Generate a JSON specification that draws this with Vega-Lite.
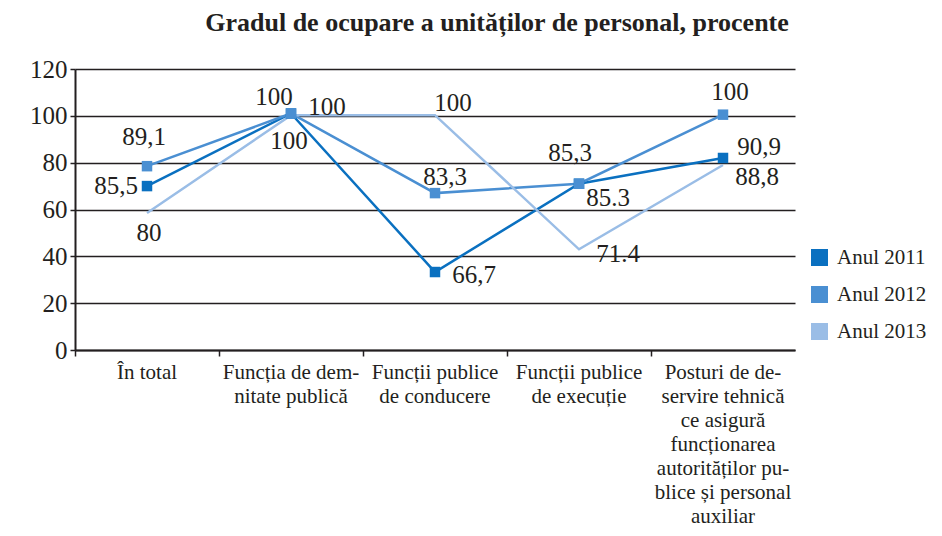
{
  "$schema": "https://vega.github.io/schema/vega-lite/v6.json",
  "width": 720,
  "height": 281,
  "autosize": {"type": "none"},
  "padding": {"left": 75, "top": 69, "right": 147, "bottom": 186},
  "title": {
    "text": "Gradul de ocupare a unităților de personal, procente",
    "font": "Liberation Serif",
    "fontSize": 26,
    "fontWeight": "bold",
    "color": "#231f20",
    "anchor": "middle",
    "dx": 62,
    "offset": 21
  },
  "data": {
    "values": [
      {"serie": "Anul 2011", "cat": "În total", "v": 70, "lbl": "85,5"},
      {"serie": "Anul 2011", "cat": "Funcția de demnitate publică", "v": 101, "lbl": "100"},
      {"serie": "Anul 2011", "cat": "Funcții publice de conducere", "v": 33.3, "lbl": "66,7"},
      {"serie": "Anul 2011", "cat": "Funcții publice de execuție", "v": 71, "lbl": "85.3"},
      {"serie": "Anul 2011", "cat": "Posturi de deservire tehnică ce asigură funcționarea autorităților publice și personal auxiliar", "v": 82, "lbl": "90,9"},
      {"serie": "Anul 2012", "cat": "În total", "v": 78.5, "lbl": "89,1"},
      {"serie": "Anul 2012", "cat": "Funcția de demnitate publică", "v": 101, "lbl": "100"},
      {"serie": "Anul 2012", "cat": "Funcții publice de conducere", "v": 67, "lbl": "83,3"},
      {"serie": "Anul 2012", "cat": "Funcții publice de execuție", "v": 71, "lbl": "85,3"},
      {"serie": "Anul 2012", "cat": "Posturi de deservire tehnică ce asigură funcționarea autorităților publice și personal auxiliar", "v": 100.5, "lbl": "100"},
      {"serie": "Anul 2013", "cat": "În total", "v": 58.5, "lbl": "80"},
      {"serie": "Anul 2013", "cat": "Funcția de demnitate publică", "v": 100.3, "lbl": "100"},
      {"serie": "Anul 2013", "cat": "Funcții publice de conducere", "v": 100.3, "lbl": "100"},
      {"serie": "Anul 2013", "cat": "Funcții publice de execuție", "v": 43, "lbl": "71.4"},
      {"serie": "Anul 2013", "cat": "Posturi de deservire tehnică ce asigură funcționarea autorităților publice și personal auxiliar", "v": 79, "lbl": "88,8"}
    ]
  },
  "encoding": {
    "x": {
      "field": "cat",
      "type": "nominal",
      "sort": null,
      "scale": {"type": "band", "paddingInner": 0, "paddingOuter": 0},
      "axis": {
        "title": null,
        "bandPosition": 0,
        "grid": false,
        "ticks": true,
        "tickSize": 6,
        "tickWidth": 1.5,
        "tickColor": "#231f20",
        "domainColor": "#231f20",
        "domainWidth": 2,
        "labelAngle": 0,
        "labelFont": "Liberation Serif",
        "labelFontSize": 21,
        "labelColor": "#231f20",
        "labelLineHeight": 24,
        "labelBaseline": "top",
        "labelPadding": 5,
        "labelOverlap": false,
        "labelBound": false,
        "labelLimit": 300,
        "labelExpr": "datum.value == 'Funcția de demnitate publică' ? ['Funcția de dem-', 'nitate publică'] : datum.value == 'Funcții publice de conducere' ? ['Funcții publice', 'de conducere'] : datum.value == 'Funcții publice de execuție' ? ['Funcții publice', 'de execuție'] : datum.value == 'În total' ? 'În total' : ['Posturi de de-', 'servire tehnică', 'ce asigură', 'funcționarea', 'autorităților pu-', 'blice și personal', 'auxiliar']"
      }
    },
    "y": {
      "field": "v",
      "type": "quantitative",
      "scale": {"domain": [0, 120], "nice": false},
      "axis": {
        "title": null,
        "values": [0, 20, 40, 60, 80, 100, 120],
        "grid": true,
        "gridColor": "#231f20",
        "gridWidth": 1.5,
        "gridOpacity": 1,
        "domainColor": "#231f20",
        "domainWidth": 2,
        "tickColor": "#231f20",
        "tickWidth": 1.5,
        "tickSize": 5,
        "labelFont": "Liberation Serif",
        "labelFontSize": 25,
        "labelColor": "#231f20",
        "labelPadding": 3
      }
    }
  },
  "layer": [
    {
      "mark": {"type": "line", "strokeWidth": 2.5},
      "encoding": {
        "color": {
          "field": "serie",
          "type": "nominal",
          "scale": {"domain": ["Anul 2011", "Anul 2012", "Anul 2013"], "range": ["#0A70C0", "#4A8FD2", "#9ABDE6"]},
          "legend": {
            "title": null,
            "orient": "none",
            "legendX": 734,
            "legendY": 178,
            "padding": 0,
            "symbolType": "square",
            "symbolSize": 225,
            "symbolStrokeWidth": 2,
            "labelFont": "Liberation Serif",
            "labelFontSize": 21,
            "labelColor": "#231f20",
            "labelOffset": 7,
            "rowPadding": 14,
            "encode": {
              "symbols": {
                "update": {
                  "fill": {"scale": "color", "field": "value"},
                  "stroke": {"value": "#231f20"},
                  "strokeWidth": {"value": 2},
                  "opacity": {"value": 1}
                }
              }
            }
          }
        }
      }
    },
    {
      "transform": [{"filter": "datum.serie != 'Anul 2013'"}],
      "mark": {"type": "point", "shape": "square", "filled": true, "size": 110, "opacity": 1},
      "encoding": {"color": {"field": "serie", "type": "nominal", "legend": null}}
    },
    {
      "encoding": {"text": {"field": "lbl", "type": "nominal"}},
      "layer": [
        {"transform": [{"filter": "datum.serie == 'Anul 2011' && datum.cat == 'În total'"}], "mark": {"type": "text", "font": "Liberation Serif", "dx": -31, "dy": 0}},
        {"transform": [{"filter": "datum.serie == 'Anul 2011' && datum.cat == 'Funcția de demnitate publică'"}], "mark": {"type": "text", "font": "Liberation Serif", "dx": -2, "dy": 28}},
        {"transform": [{"filter": "datum.serie == 'Anul 2011' && datum.cat == 'Funcții publice de conducere'"}], "mark": {"type": "text", "font": "Liberation Serif", "dx": 39, "dy": 3}},
        {"transform": [{"filter": "datum.serie == 'Anul 2011' && datum.cat == 'Funcții publice de execuție'"}], "mark": {"type": "text", "font": "Liberation Serif", "dx": 29, "dy": 14}},
        {"transform": [{"filter": "datum.serie == 'Anul 2011' && indexof(datum.cat, 'Posturi') == 0"}], "mark": {"type": "text", "font": "Liberation Serif", "dx": 36, "dy": -11}},
        {"transform": [{"filter": "datum.serie == 'Anul 2012' && datum.cat == 'În total'"}], "mark": {"type": "text", "font": "Liberation Serif", "dx": -3, "dy": -29}},
        {"transform": [{"filter": "datum.serie == 'Anul 2012' && datum.cat == 'Funcția de demnitate publică'"}], "mark": {"type": "text", "font": "Liberation Serif", "dx": -17, "dy": -16}},
        {"transform": [{"filter": "datum.serie == 'Anul 2012' && datum.cat == 'Funcții publice de conducere'"}], "mark": {"type": "text", "font": "Liberation Serif", "dx": 10, "dy": -16}},
        {"transform": [{"filter": "datum.serie == 'Anul 2012' && datum.cat == 'Funcții publice de execuție'"}], "mark": {"type": "text", "font": "Liberation Serif", "dx": -9, "dy": -31}},
        {"transform": [{"filter": "datum.serie == 'Anul 2012' && indexof(datum.cat, 'Posturi') == 0"}], "mark": {"type": "text", "font": "Liberation Serif", "dx": 7, "dy": -23}},
        {"transform": [{"filter": "datum.serie == 'Anul 2013' && datum.cat == 'În total'"}], "mark": {"type": "text", "font": "Liberation Serif", "dx": 2, "dy": 20}},
        {"transform": [{"filter": "datum.serie == 'Anul 2013' && datum.cat == 'Funcția de demnitate publică'"}], "mark": {"type": "text", "font": "Liberation Serif", "dx": 36, "dy": -8}},
        {"transform": [{"filter": "datum.serie == 'Anul 2013' && datum.cat == 'Funcții publice de conducere'"}], "mark": {"type": "text", "font": "Liberation Serif", "dx": 18, "dy": -12}},
        {"transform": [{"filter": "datum.serie == 'Anul 2013' && datum.cat == 'Funcții publice de execuție'"}], "mark": {"type": "text", "font": "Liberation Serif", "dx": 39, "dy": 5}},
        {"transform": [{"filter": "datum.serie == 'Anul 2013' && indexof(datum.cat, 'Posturi') == 0"}], "mark": {"type": "text", "font": "Liberation Serif", "dx": 34, "dy": 12}}
      ]
    }
  ],
  "config": {
    "view": {"stroke": null},
    "font": "Liberation Serif",
    "mark": {"font": "Liberation Serif"},
    "text": {"font": "Liberation Serif", "fontSize": 25, "color": "#231f20", "baseline": "middle", "align": "center"}
  }
}
